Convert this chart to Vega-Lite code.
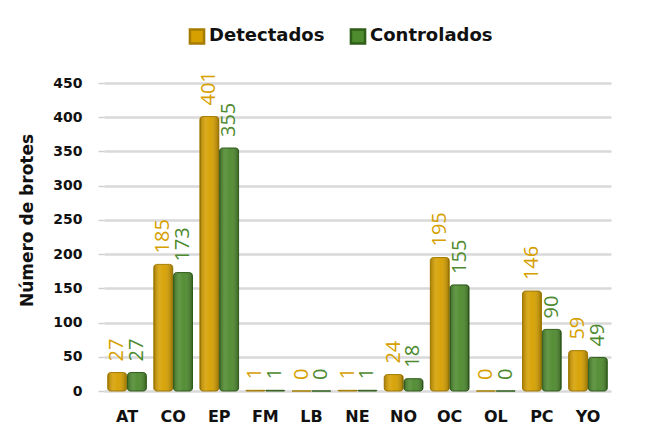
{
  "$schema": "https://vega.github.io/schema/vega-lite/v6.json",
  "width": 507,
  "height": 308,
  "autosize": {"type": "none"},
  "padding": {"left": 104, "top": 83, "right": 38, "bottom": 50},
  "background": "white",
  "data": {
    "values": [
      {"region": "AT", "serie": "Detectados", "valor": 27},
      {"region": "AT", "serie": "Controlados", "valor": 27},
      {"region": "CO", "serie": "Detectados", "valor": 185},
      {"region": "CO", "serie": "Controlados", "valor": 173},
      {"region": "EP", "serie": "Detectados", "valor": 401},
      {"region": "EP", "serie": "Controlados", "valor": 355},
      {"region": "FM", "serie": "Detectados", "valor": 1},
      {"region": "FM", "serie": "Controlados", "valor": 1},
      {"region": "LB", "serie": "Detectados", "valor": 0},
      {"region": "LB", "serie": "Controlados", "valor": 0},
      {"region": "NE", "serie": "Detectados", "valor": 1},
      {"region": "NE", "serie": "Controlados", "valor": 1},
      {"region": "NO", "serie": "Detectados", "valor": 24},
      {"region": "NO", "serie": "Controlados", "valor": 18},
      {"region": "OC", "serie": "Detectados", "valor": 195},
      {"region": "OC", "serie": "Controlados", "valor": 155},
      {"region": "OL", "serie": "Detectados", "valor": 0},
      {"region": "OL", "serie": "Controlados", "valor": 0},
      {"region": "PC", "serie": "Detectados", "valor": 146},
      {"region": "PC", "serie": "Controlados", "valor": 90},
      {"region": "YO", "serie": "Detectados", "valor": 59},
      {"region": "YO", "serie": "Controlados", "valor": 49}
    ]
  },
  "encoding": {
    "x": {
      "field": "region", "type": "nominal", "sort": null,
      "scale": {"paddingInner": 0.16, "paddingOuter": 0.08},
      "axis": {
        "title": null, "labelAngle": 0, "domain": false, "ticks": false,
        "labelFont": "DejaVu Sans", "labelFontWeight": "bold", "labelFontSize": 16,
        "labelColor": "#111111", "labelPadding": 17
      }
    },
    "xOffset": {"field": "serie", "type": "nominal", "sort": ["Detectados", "Controlados"], "scale": {"paddingInner": 0.04}},
    "y": {
      "field": "valor", "type": "quantitative",
      "scale": {"domain": [0, 450]},
      "axis": {
        "title": "Número de brotes", "values": [0, 50, 100, 150, 200, 250, 300, 350, 400, 450],
        "domain": false, "tickSize": 6, "tickColor": "#D0D0D0", "tickWidth": 1.5,
        "gridColor": "#D9D9D9", "gridWidth": 2.5,
        "labelFont": "DejaVu Sans", "labelFontWeight": "bold", "labelFontSize": 14,
        "labelColor": "#111111", "labelPadding": 16,
        "titleFont": "DejaVu Sans", "titleFontWeight": "bold", "titleFontSize": 17,
        "titleColor": "#111111", "titlePadding": 16, "titleY": 137
      }
    }
  },
  "layer": [
    {
      "mark": {"type": "bar", "strokeWidth": 1, "cornerRadius": 3},
      "encoding": {
        "color": {
          "field": "serie", "type": "nominal",
          "scale": {"domain": ["Detectados", "Controlados"], "range": ["#D6A000", "#4E8A2E"]},
          "legend": {
            "title": null, "orient": "none", "legendX": 84, "legendY": -56,
            "direction": "horizontal", "symbolType": "square", "symbolSize": 200,
            "symbolStrokeWidth": 2.5, "columnPadding": 20,
            "labelFont": "DejaVu Sans", "labelFontWeight": "bold", "labelFontSize": 18,
            "labelColor": "#111111", "labelOffset": 3
          }
        },
        "stroke": {
          "field": "serie", "type": "nominal",
          "scale": {"domain": ["Detectados", "Controlados"], "range": ["#A67C00", "#2F5E1A"]},
          "legend": null
        }
      }
    },
    {
      "mark": {
        "type": "bar", "cornerRadius": 3,
        "color": {
          "gradient": "linear", "x1": 0, "x2": 1, "y1": 0, "y2": 0,
          "stops": [
            {"offset": 0, "color": "rgba(0,0,0,0.22)"},
            {"offset": 0.3, "color": "rgba(255,255,255,0.12)"},
            {"offset": 0.55, "color": "rgba(255,255,255,0.04)"},
            {"offset": 1, "color": "rgba(0,0,0,0.28)"}
          ]
        }
      }
    },
    {
      "mark": {"type": "text", "angle": 270, "align": "left", "baseline": "middle", "dx": 11, "font": "Open Sans", "fontSize": 20},
      "encoding": {
        "text": {"field": "valor", "type": "quantitative"},
        "color": {
          "field": "serie", "type": "nominal",
          "scale": {"domain": ["Detectados", "Controlados"], "range": ["#D6A000", "#4E8A2E"]},
          "legend": null
        }
      }
    }
  ],
  "config": {"view": {"stroke": null}}
}
